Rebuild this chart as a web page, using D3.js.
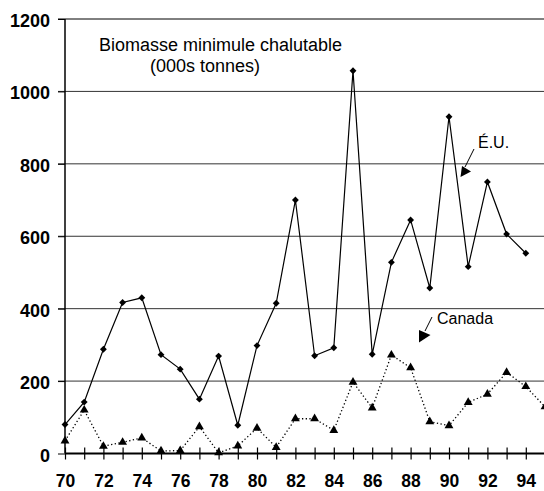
<!DOCTYPE html>
<html>
  <head>
    <meta charset="utf-8">
    <title>Biomasse minimule chalutable</title>
    <style media="screen">
      body {margin:0; background:#fff}
      text {font-family: 'Liberation Sans', Arial, sans-serif}
      .tick text {font-weight: bold; font-size: 18px; fill: #000}
    </style>
  </head>
  <body>
    <script src="https://cdn.jsdelivr.net/npm/d3@7"></script>
    <script type="text/javascript">

    const years = d3.range(70, 96)
    const yTicks = [0, 200, 400, 600, 800, 1000, 1200]
    const xLabels = [70, 72, 74, 76, 78, 80, 82, 84, 86, 88, 90, 92, 94]

    // É.U., 1970-1994
    const eu = [80, 142, 288, 417, 430, 273, 233, 150, 269, 78, 298, 415, 700,
                270, 292, 1057, 274, 528, 645, 457, 930, 516, 750, 606, 553]
    // Canada, 1970-1995
    const canada = [35, 120, 20, 31, 43, 7, 8, 74, 2, 21, 70, 17, 96,
                    96, 64, 197, 126, 272, 237, 88, 77, 141, 164, 224, 185, 129]

    const w = 544, h = 491

    const svg = d3.select('body').append('svg')
      .attr('width', w)
      .attr('height', h)

    const x = d3.scaleLinear().domain([70, 95]).range([65, 545])
    const y = d3.scaleLinear().domain([0, 1200]).range([453.5, 19])

    // grid
    svg.append('g')
      .selectAll('line')
      .data(yTicks.slice(1))
      .join('line')
        .attr('x1', 58).attr('x2', w)
        .attr('y1', d => y(d)).attr('y2', d => y(d))
        .attr('stroke', d => d == 1200 ? '#000' : '#333')
        .attr('stroke-width', 1)

    // y axis
    const ya = svg.append('g')
      .attr('transform', `translate(${x(70)},0)`)
      .call(d3.axisLeft(y).tickValues(yTicks).tickSize(7).tickPadding(8).tickFormat(d3.format('d')))
    ya.select('.domain').attr('stroke', '#000').attr('stroke-width', 1.5).attr('d', `M0,${y(1200)}V${y(0)}`)
    ya.selectAll('.tick line').attr('stroke', '#000')
    ya.selectAll('.tick text').attr('dy', '0.42em')

    // x axis, a tick every year, labels on even years
    const xa = svg.append('g')
      .attr('transform', `translate(0,${y(0)})`)
      .call(d3.axisBottom(x).tickValues(d3.range(70, 95)).tickSize(6).tickPadding(15)
        .tickFormat(d => xLabels.includes(d) ? d : ''))
    xa.select('.domain').attr('stroke', '#000').attr('stroke-width', 2).attr('d', `M${x(70)},0H${w}`)
    xa.selectAll('.tick line').attr('stroke', '#000').attr('y1', -6).attr('stroke-width', 1.2)
    xa.selectAll('.tick text').style('font-size', '17.5px')

    const line = d3.line()
      .x((d, i) => x(70 + i))
      .y(d => y(d))

    svg.append('path')
      .attr('d', line(canada))
      .attr('fill', 'none')
      .attr('stroke', '#000')
      .attr('stroke-width', 1.3)
      .attr('stroke-dasharray', '1.3,2.4')

    svg.append('path')
      .attr('d', line(eu))
      .attr('fill', 'none')
      .attr('stroke', '#000')
      .attr('stroke-width', 1.2)

    const diamond = d3.symbol().type(d3.symbolDiamond2).size(30)
    const tri = d3.symbol().type(d3.symbolTriangle).size(34)

    svg.append('g')
      .selectAll('path')
      .data(eu)
      .join('path')
        .attr('transform', (d, i) => `translate(${x(70 + i)},${y(d)})`)
        .attr('d', diamond)

    svg.append('g')
      .selectAll('path')
      .data(canada)
      .join('path')
        .attr('transform', (d, i) => `translate(${x(70 + i)},${y(d)})`)
        .attr('d', tri)

    // titre
    svg.append('text')
      .attr('x', 99).attr('y', 51)
      .attr('font-size', 18)
      .text('Biomasse minimule chalutable')
    svg.append('text')
      .attr('x', 150).attr('y', 72)
      .attr('font-size', 18)
      .text('(000s tonnes)')

    // étiquettes avec flèches
    function label (tx, ty, txt, l, head) {
      svg.append('text').attr('x', tx).attr('y', ty).attr('font-size', 16).text(txt)
      svg.append('line')
        .attr('x1', l[0]).attr('y1', l[1]).attr('x2', l[2]).attr('y2', l[3])
        .attr('stroke', '#000').attr('stroke-width', 1)
      svg.append('path').attr('d', 'M' + head.join('L') + 'Z').attr('fill', '#000')
    }

    label(478, 148, 'É.U.', [474, 149, 465, 167], [[460.5, 177], [462, 166], [471, 171.5]])
    label(437, 324, 'Canada', [432, 317, 425, 331], [[419, 342.5], [419, 330], [430.5, 335]])

    </script>
  </body>
</html>
